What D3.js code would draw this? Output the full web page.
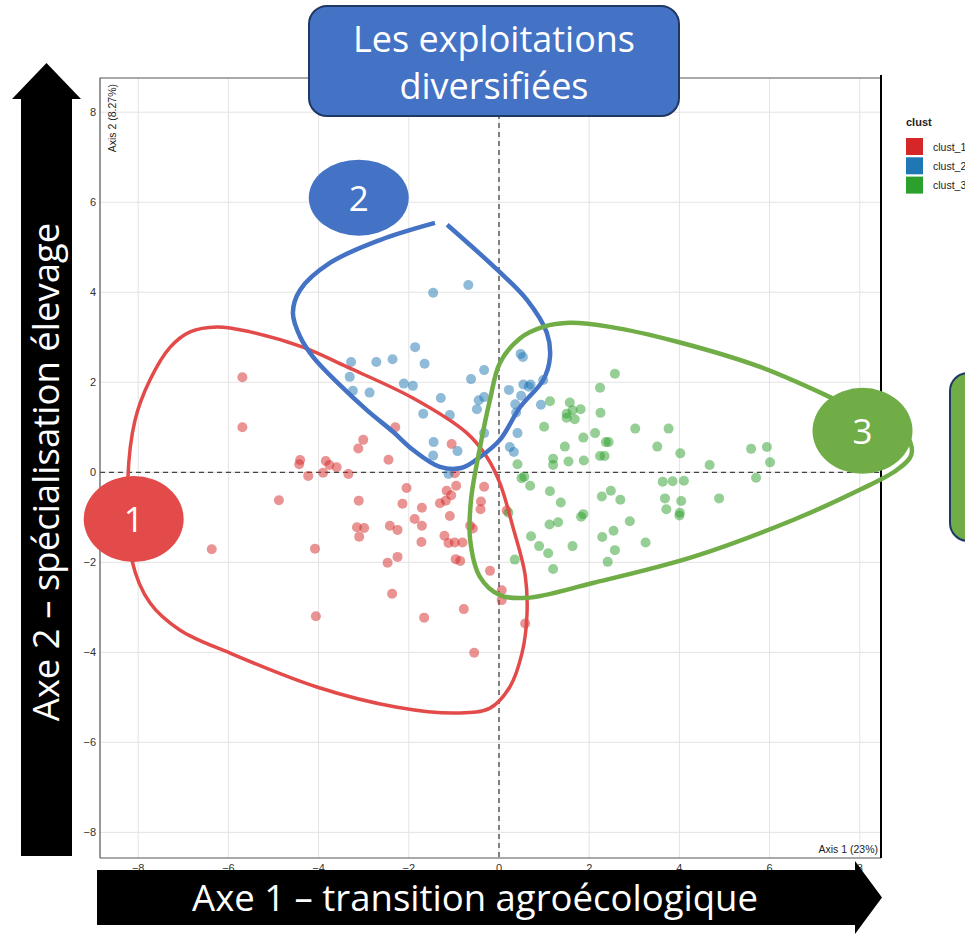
<!DOCTYPE html>
<html>
<head>
<meta charset="utf-8">
<script src="https://cdn.jsdelivr.net/npm/d3@7"></script>
<style>
  html, body { margin: 0; padding: 0; background: #fff; }
  svg { display: block; }
</style>
</head>
<body>
<div id="chart"></div>
<script>
// cluster points (Axis 1, Axis 2)
const clust1 = [
  [-5.69, 2.11], [-5.69, 1.00], [-4.41, 0.27], [-4.43, 0.18], [-4.23, -0.08], [-3.84, 0.25],
  [-3.76, 0.16], [-3.60, 0.11], [-3.90, -0.01], [-3.34, -0.04], [-3.01, 0.72], [-3.12, 0.53],
  [-2.45, 0.28], [-2.30, 1.00], [-1.05, 0.63], [-0.98, -0.02], [-2.05, -0.35], [-1.16, -0.41],
  [-0.95, -0.30], [-1.06, -0.51], [-1.31, -0.69], [-1.18, -0.63], [-0.33, -0.32], [-0.40, -0.65],
  [-0.41, -0.82], [-1.71, -0.79], [-2.14, -0.70], [-1.09, -0.97], [-3.11, -0.63], [-4.88, -0.62],
  [-3.15, -1.22], [-2.99, -1.24], [-3.10, -1.43], [-2.42, -1.19], [-2.25, -1.28], [-1.87, -1.04],
  [-1.71, -1.19], [-0.64, -1.19], [-0.58, -1.25], [-1.21, -1.41], [-1.12, -1.57], [-0.98, -1.56],
  [-0.81, -1.56], [-1.72, -1.55], [-4.08, -1.70], [-6.37, -1.71], [-2.25, -1.88], [-2.47, -2.01],
  [-0.96, -1.93], [-0.86, -1.97], [-0.20, -2.19], [0.06, -2.62], [0.06, -2.84], [-2.37, -2.70],
  [-0.78, -3.04], [-4.06, -3.20], [-1.66, -3.23], [0.58, -3.36], [-0.55, -4.01], [0.17, -0.85]
];
const clust2 = [
  [-0.68, 4.16], [-1.46, 3.99], [-3.28, 2.45], [-2.72, 2.45], [-2.36, 2.51], [-1.86, 2.78],
  [-1.65, 2.41], [-3.31, 2.12], [-3.24, 1.81], [-2.87, 1.77], [-2.11, 1.97], [-1.91, 1.92],
  [-1.29, 1.65], [-0.62, 2.07], [-0.33, 2.27], [-0.45, 1.60], [-0.33, 1.67], [-0.49, 1.40],
  [-1.09, 1.27], [-1.68, 1.30], [-1.45, 0.67], [-1.46, 0.37], [-0.92, 0.47], [-0.33, 0.87],
  [0.48, 2.63], [0.53, 2.56], [0.22, 1.83], [0.54, 1.95], [0.70, 1.95], [0.66, 1.90],
  [0.98, 2.05], [0.49, 1.70], [0.36, 1.51], [0.38, 1.33], [0.93, 1.50], [0.41, 0.87],
  [0.24, 0.56], [0.33, 0.45], [-1.12, -0.04]
];
const clust3 = [
  [2.57, 2.19], [2.24, 1.88], [1.13, 1.58], [1.57, 1.55], [1.81, 1.40], [1.63, 1.38],
  [1.50, 1.30], [1.50, 1.21], [1.68, 1.18], [2.25, 1.32], [1.00, 1.01], [3.02, 0.97],
  [3.76, 0.97], [2.13, 0.87], [1.87, 0.77], [1.46, 0.57], [2.37, 0.67], [2.43, 0.67],
  [3.51, 0.57], [4.02, 0.42], [5.59, 0.52], [5.94, 0.56], [6.01, 0.22], [4.67, 0.16],
  [2.24, 0.36], [2.34, 0.36], [1.20, 0.30], [1.20, 0.16], [1.54, 0.24], [1.88, 0.26],
  [0.41, 0.18], [5.70, -0.12], [0.50, -0.13], [0.56, -0.10], [0.69, -0.30], [3.63, -0.21],
  [3.85, -0.20], [4.10, -0.19], [1.13, -0.42], [2.48, -0.41], [2.28, -0.54], [2.69, -0.61],
  [1.37, -0.67], [3.68, -0.58], [4.04, -0.64], [4.88, -0.58], [3.71, -0.82], [4.01, -0.90],
  [4.00, -0.96], [1.87, -0.93], [1.82, -0.99], [2.90, -1.09], [1.12, -1.16], [1.31, -1.11],
  [2.54, -1.30], [0.71, -1.42], [2.29, -1.44], [3.25, -1.56], [0.89, -1.64], [1.09, -1.80],
  [1.63, -1.64], [2.57, -1.73], [2.41, -1.99], [0.35, -1.94], [1.20, -2.15], [0.21, -0.90]
];

// hand-drawn outlines, in axis units
const outline1 = [
  [-8.23, -0.17], [-8.07, 1.16], [-7.74, 2.05], [-7.29, 2.78], [-6.85, 3.12], [-6.25, 3.23],
  [-5.52, 3.12], [-4.35, 2.78], [-3.37, 2.34], [-1.91, 1.65], [-0.71, 0.87], [-0.27, 0.34],
  [0.02, -0.24], [0.31, -1.22], [0.58, -2.28], [0.62, -3.17], [0.51, -4.02], [0.24, -4.77],
  [-0.20, -5.24], [-0.93, -5.35], [-2.26, -5.22], [-4.04, -4.77], [-5.96, -4.02], [-7.07, -3.51],
  [-7.74, -2.90], [-8.14, -1.95]
];
const outline2 = [
  [-1.42, 5.54], [-2.64, 5.16], [-3.75, 4.65], [-4.41, 4.05], [-4.57, 3.54], [-4.41, 3.01],
  [-4.12, 2.56], [-3.53, 1.94], [-2.93, 1.38], [-2.35, 0.90], [-1.91, 0.50], [-1.31, 0.12],
  [-0.82, 0.10], [-0.42, 0.34], [0.02, 0.72], [0.47, 1.45], [0.98, 2.05], [1.13, 2.56],
  [1.06, 3.10], [0.62, 3.83], [-0.04, 4.50], [-1.15, 5.50]
];
const outline3 = [
  [0.02, 2.43], [0.47, 2.98], [0.98, 3.23], [1.57, 3.32], [2.46, 3.23], [3.95, 2.90],
  [5.79, 2.34], [7.34, 1.67], [8.45, 1.12], [9.07, 0.76], [9.14, 0.38], [8.82, 0.05],
  [8.00, -0.39], [6.52, -1.06], [4.30, -1.88], [2.08, -2.46], [0.62, -2.79], [0.02, -2.73],
  [-0.42, -2.33], [-0.64, -1.50], [-0.62, -0.61], [-0.42, 0.56], [-0.20, 1.61]
];

const ticks = [-8, -6, -4, -2, 0, 2, 4, 6, 8];
const legendLabels = ['clust_1', 'clust_2', 'clust_3'];
const pointColors = ['#d62728', '#1f77b4', '#2ca02c'];
const groupColors = ['#e34a4a', '#4472c4', '#70ad47'];
const markers = ['1', '2', '3'];

const W = 965, H = 934;
const panel = { left: 100, right: 881, top: 78, bottom: 858 };

const svg = d3.select('#chart').append('svg')
  .attr('width', W).attr('height', H)
  .style('font-family', '"Liberation Sans", Arial, sans-serif');

const x = d3.scaleLinear().domain([-8.847, 8.47]).range([panel.left, panel.right]);
const y = d3.scaleLinear().domain([-8.57, 8.76]).range([panel.bottom, panel.top]);

// grid
const grid = svg.append('g');
grid.selectAll('.vx').data(ticks).join('line')
  .attr('x1', d => x(d)).attr('x2', d => x(d))
  .attr('y1', panel.top).attr('y2', panel.bottom)
  .attr('stroke', '#e3e3e3').attr('stroke-width', 1);
grid.selectAll('.hy').data(ticks).join('line')
  .attr('y1', d => y(d)).attr('y2', d => y(d))
  .attr('x1', panel.left).attr('x2', panel.right)
  .attr('stroke', '#e3e3e3').attr('stroke-width', 1);

// origin lines
svg.append('line')
  .attr('x1', x(0)).attr('x2', x(0)).attr('y1', panel.top).attr('y2', panel.bottom)
  .attr('stroke', '#444').attr('stroke-width', 1.3).attr('stroke-dasharray', '5,4');
svg.append('line')
  .attr('y1', y(0)).attr('y2', y(0)).attr('x1', panel.left).attr('x2', panel.right)
  .attr('stroke', '#444').attr('stroke-width', 1.3).attr('stroke-dasharray', '5,4');

// points
[clust1, clust2, clust3].forEach((pts, i) => {
  svg.append('g').selectAll('circle').data(pts).join('circle')
    .attr('cx', d => x(d[0])).attr('cy', d => y(d[1])).attr('r', 5)
    .attr('fill', pointColors[i]).attr('fill-opacity', 0.5);
});

// panel border
svg.append('path')
  .attr('d', `M${panel.left},${panel.bottom}V${panel.top}H${panel.right}`)
  .attr('fill', 'none').attr('stroke', '#555').attr('stroke-width', 1.2);
svg.append('line')
  .attr('x1', panel.left).attr('x2', panel.right).attr('y1', panel.bottom).attr('y2', panel.bottom)
  .attr('stroke', '#555').attr('stroke-width', 1.2);
svg.append('line')
  .attr('x1', panel.right).attr('x2', panel.right).attr('y1', panel.top - 3).attr('y2', panel.bottom)
  .attr('stroke', '#000').attr('stroke-width', 2);

// tick labels
const fmt = d3.format('d');
svg.append('g').selectAll('text').data(ticks).join('text')
  .attr('x', panel.left - 4).attr('y', d => y(d) + 4)
  .attr('text-anchor', 'end').attr('font-size', 11).attr('fill', '#333')
  .text(d => fmt(d));
svg.append('g').selectAll('text').data(ticks).join('text')
  .attr('x', d => x(d)).attr('y', panel.bottom + 14)
  .attr('text-anchor', 'middle').attr('font-size', 11).attr('fill', '#333')
  .text(d => fmt(d));

// axis titles inside panel
svg.append('text')
  .attr('transform', `translate(${panel.left + 16},${panel.top + 6}) rotate(-90)`)
  .attr('text-anchor', 'end').attr('font-size', 10.5).attr('fill', '#222')
  .text('Axis 2 (8.27%)');
svg.append('text')
  .attr('x', panel.right - 3).attr('y', panel.bottom - 5)
  .attr('text-anchor', 'end').attr('font-size', 10.5).attr('fill', '#222')
  .text('Axis 1 (23%)');

// legend
const lg = svg.append('g').attr('transform', 'translate(906,0)');
lg.append('text').attr('x', 0).attr('y', 126)
  .attr('font-size', 11).attr('font-weight', 'bold').attr('fill', '#222').text('clust');
legendLabels.forEach((lab, i) => {
  lg.append('rect').attr('x', 0).attr('y', 138 + i * 19.3).attr('width', 17).attr('height', 17)
    .attr('fill', pointColors[i]);
  lg.append('text').attr('x', 27).attr('y', 138 + i * 19.3 + 12.5)
    .attr('font-size', 10.5).attr('fill', '#222').text(lab);
});

// group outlines
const closed = d3.line().x(d => x(d[0])).y(d => y(d[1])).curve(d3.curveCatmullRomClosed);
const open = d3.line().x(d => x(d[0])).y(d => y(d[1])).curve(d3.curveCatmullRom);
svg.append('path').attr('d', closed(outline1))
  .attr('fill', 'none').attr('stroke', groupColors[0]).attr('stroke-width', 3.5);
svg.append('path').attr('d', open(outline2))
  .attr('fill', 'none').attr('stroke', groupColors[1]).attr('stroke-width', 4.5);
svg.append('path').attr('d', closed(outline3))
  .attr('fill', 'none').attr('stroke', groupColors[2]).attr('stroke-width', 4.5);

// group markers
const markerPos = [[-8.1, -1.04, 43], [-3.11, 6.1, 38], [8.06, 0.92, 43]];
const font2 = '"Open Sans", "Noto Sans", sans-serif';
markerPos.forEach((m, i) => {
  svg.append('ellipse').attr('cx', x(m[0])).attr('cy', y(m[1])).attr('rx', 50).attr('ry', m[2])
    .attr('fill', groupColors[i]);
  svg.append('text').attr('x', x(m[0])).attr('y', y(m[1]) + 13)
    .attr('text-anchor', 'middle').attr('font-size', 35).attr('fill', '#fff')
    .style('font-family', font2).text(markers[i]);
});

// axis arrows
svg.append('path')
  .attr('d', 'M21,856V99H12L46.5,63L81,99H72V856Z').attr('fill', '#000');
svg.append('text')
  .attr('transform', 'translate(59,472) rotate(-90)')
  .attr('text-anchor', 'middle').attr('font-size', 36.5).attr('fill', '#fff')
  .style('font-family', font2)
  .text('Axe 2 – spécialisation élevage');
svg.append('path')
  .attr('d', 'M97,870H855V861L882,897.5L855,934V925H97Z').attr('fill', '#000');
svg.append('text')
  .attr('x', 475).attr('y', 911)
  .attr('text-anchor', 'middle').attr('font-size', 36.5).attr('fill', '#fff')
  .style('font-family', font2)
  .text('Axe 1 – transition agroécologique');

// title box
svg.append('rect').attr('x', 309).attr('y', 6).attr('width', 370).attr('height', 110).attr('rx', 18)
  .attr('fill', '#4472c4').attr('stroke', '#1f3864').attr('stroke-width', 2);
svg.append('text').attr('x', 494).attr('y', 52)
  .attr('text-anchor', 'middle').attr('font-size', 36).attr('fill', '#fff')
  .style('font-family', font2).text('Les exploitations');
svg.append('text').attr('x', 494).attr('y', 99)
  .attr('text-anchor', 'middle').attr('font-size', 36).attr('fill', '#fff')
  .style('font-family', font2).text('diversifiées');

// side box (cut by page edge)
svg.append('rect').attr('x', 950).attr('y', 373).attr('width', 120).attr('height', 168).attr('rx', 18)
  .attr('fill', '#70ad47').attr('stroke', '#1f3864').attr('stroke-width', 2);
</script>
</body>
</html>
